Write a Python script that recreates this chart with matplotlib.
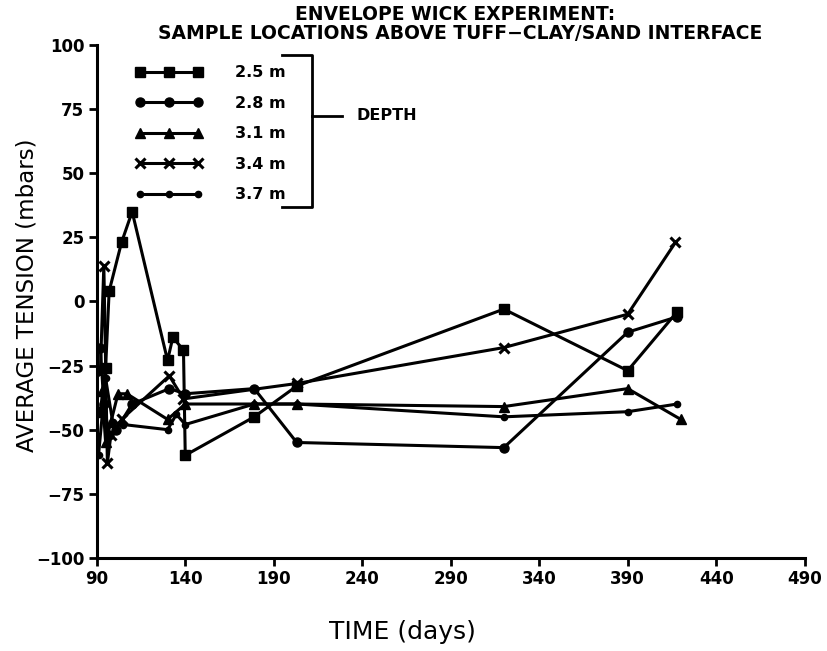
import matplotlib

matplotlib.use("Agg")
import matplotlib.pyplot as plt
from matplotlib.lines import Line2D

# values (days, average tension in mbars)
depth_labels = ["2.5 m", "2.8 m", "3.1 m", "3.4 m", "3.7 m"]

days_25 = [92, 95, 97, 104, 110, 130, 133, 139, 140, 179, 203, 320, 390, 418]
vals_25 = [-43, -26, 4, 23, 35, -23, -14, -19, -60, -45, -33, -3, -27, -4]

days_28 = [92, 94, 97, 101, 110, 131, 140, 179, 203, 320, 390, 418]
vals_28 = [-18, -40, -52, -50, -40, -34, -36, -34, -55, -57, -12, -6]

days_31 = [93, 95, 98, 102, 107, 130, 140, 179, 203, 320, 390, 420]
vals_31 = [-35, -55, -47, -36, -36, -46, -40, -40, -40, -41, -34, -46]

days_34 = [92, 94, 96, 98, 104, 131, 139, 203, 320, 390, 417]
vals_34 = [-28, 14, -63, -52, -46, -29, -38, -32, -18, -5, 23]

days_37 = [91, 95, 99, 105, 130, 135, 140, 179, 203, 320, 390, 418]
vals_37 = [-60, -30, -47, -48, -50, -44, -48, -40, -40, -45, -43, -40]

x_ticks = [90, 140, 190, 240, 290, 340, 390, 440, 490]
y_ticks = [-100, -75, -50, -25, 0, 25, 50, 75, 100]

BOLD = dict(fontweight="bold", family="DejaVu Sans")


def main() -> None:
    fig = plt.figure(figsize=(8.27, 6.51), dpi=100)
    ax = fig.add_axes([0.117, 0.143, 0.856, 0.788])

    series = [
        (days_25, vals_25, dict(marker="s", markersize=6.5)),
        (days_28, vals_28, dict(marker="o", markersize=6.5)),
        (days_31, vals_31, dict(marker="^", markersize=6.5)),
        (days_34, vals_34, dict(marker="x", markersize=7, markeredgewidth=2.2)),
        (days_37, vals_37, dict(marker="o", markersize=4.5)),
    ]
    handles = []
    for (days, vals, style), label in zip(series, depth_labels):
        (line,) = ax.plot(
            days, vals, color="black", linewidth=2.2, label=label, **style
        )
        handles.append(line)

    ax.set_xlim(90, 490)
    ax.set_ylim(-100, 100)
    ax.set_xticks(x_ticks)
    ax.set_yticks(y_ticks)
    ax.set_xticklabels([str(t) for t in x_ticks], fontsize=12, **BOLD)
    ax.set_yticklabels([f"{t}".replace("-", "\u2212") for t in y_ticks],
                       fontsize=12, **BOLD)
    ax.tick_params(direction="out", length=6, width=2, color="black", pad=3)

    for side in ("top", "right"):
        ax.spines[side].set_visible(False)
    for side in ("left", "bottom"):
        ax.spines[side].set_linewidth(2.2)

    legend = ax.legend(
        handles=handles,
        loc="upper left",
        bbox_to_anchor=(0.055, 0.960),
        frameon=False,
        numpoints=3,
        handlelength=4.2,
        handletextpad=2.0,
        labelspacing=0.97,
        borderpad=0,
        borderaxespad=0,
        prop=dict(weight="bold", size=11.5, family="DejaVu Sans"),
    )
    legend.set_zorder(5)

    # bracket grouping the depths
    bx0, bx1, bx2 = 0.261, 0.304, 0.346
    by_top, by_bot, by_mid = 0.980, 0.684, 0.862
    for xs, ys in (
        ([bx0, bx1, bx1, bx0], [by_top, by_top, by_bot, by_bot]),
        ([bx1, bx2], [by_mid, by_mid]),
    ):
        ax.add_line(
            Line2D(xs, ys, transform=ax.transAxes, color="black",
                   linewidth=2, clip_on=False)
        )
    ax.text(0.367, by_mid, "DEPTH", transform=ax.transAxes, va="center",
            ha="left", fontsize=11.5, **BOLD)

    fig.text(0.55, 0.978, "ENVELOPE WICK EXPERIMENT:", ha="center",
             va="center", fontsize=13.5, **BOLD)
    fig.text(0.556, 0.949, "SAMPLE LOCATIONS ABOVE TUFF\u2212CLAY/SAND INTERFACE",
             ha="center", va="center", fontsize=13.5, **BOLD)
    fig.text(0.033, 0.547, "AVERAGE TENSION (mbars)", rotation=90,
             ha="center", va="center", fontsize=16.5, family="DejaVu Sans")
    fig.text(0.487, 0.029, "TIME (days)", ha="center", va="center",
             fontsize=18, family="DejaVu Sans")

    fig.savefig("out.png", dpi=100)


if __name__ == "__main__":
    main()
